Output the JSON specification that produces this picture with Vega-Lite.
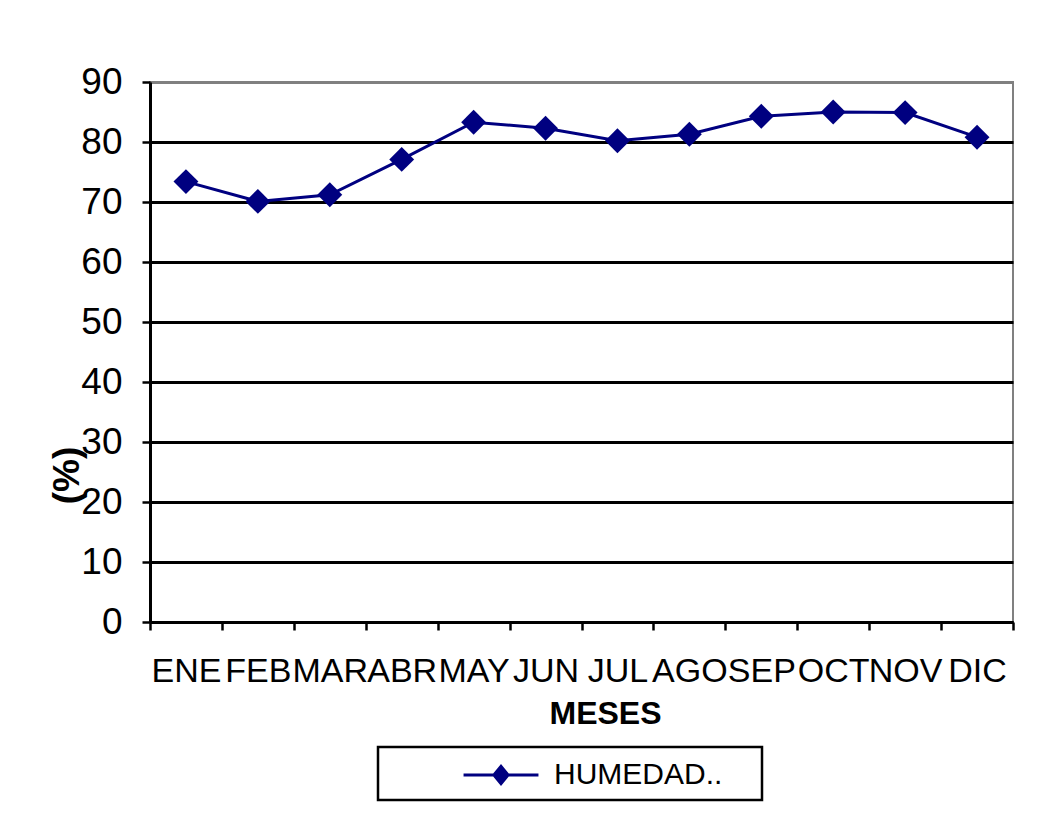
{
  "$schema": "https://vega.github.io/schema/vega-lite/v6.json",
  "width": 863,
  "height": 540,
  "autosize": {"type": "none"},
  "padding": {"left": 150, "top": 82, "right": 39, "bottom": 200},
  "background": "white",
  "config": {
    "font": "Liberation Sans",
    "view": {"stroke": "#808080", "strokeWidth": 2},
    "legend": {"strokeWidth": 2.5}
  },
  "data": {
    "values": [
      {"mes": "ENE", "humedad": 73.4, "serie": "HUMEDAD.."},
      {"mes": "FEB", "humedad": 70.1, "serie": "HUMEDAD.."},
      {"mes": "MAR", "humedad": 71.2, "serie": "HUMEDAD.."},
      {"mes": "ABR", "humedad": 77.1, "serie": "HUMEDAD.."},
      {"mes": "MAY", "humedad": 83.3, "serie": "HUMEDAD.."},
      {"mes": "JUN", "humedad": 82.3, "serie": "HUMEDAD.."},
      {"mes": "JUL", "humedad": 80.2, "serie": "HUMEDAD.."},
      {"mes": "AGO", "humedad": 81.3, "serie": "HUMEDAD.."},
      {"mes": "SEP", "humedad": 84.3, "serie": "HUMEDAD.."},
      {"mes": "OCT", "humedad": 85.0, "serie": "HUMEDAD.."},
      {"mes": "NOV", "humedad": 84.9, "serie": "HUMEDAD.."},
      {"mes": "DIC", "humedad": 80.8, "serie": "HUMEDAD.."}
    ]
  },
  "encoding": {
    "x": {
      "field": "mes",
      "type": "nominal",
      "sort": null,
      "scale": {"paddingInner": 0, "paddingOuter": 0},
      "axis": {
        "title": "MESES",
        "titleFontSize": 32,
        "titleFontWeight": "bold",
        "titleColor": "black",
        "titleX": 455,
        "titleY": 91,
        "titleAlign": "center",
        "titleBaseline": "middle",
        "labelAngle": 0,
        "labelFontSize": 34,
        "labelColor": "black",
        "labelPadding": 24,
        "labelOverlap": false,
        "labelLimit": 200,
        "labelBaseline": "top",
        "tickBand": "extent",
        "tickSize": 8,
        "tickWidth": 2.5,
        "tickColor": "black",
        "domainColor": "black",
        "domainWidth": 3,
        "grid": false
      }
    },
    "y": {
      "field": "humedad",
      "type": "quantitative",
      "scale": {"domain": [0, 90], "nice": false},
      "axis": {
        "title": "(%)",
        "titleFontSize": 37,
        "titleFontWeight": "bold",
        "titleColor": "black",
        "titleX": -83,
        "titleY": 393,
        "titleAlign": "center",
        "titleBaseline": "middle",
        "values": [0, 10, 20, 30, 40, 50, 60, 70, 80, 90],
        "labelFontSize": 37,
        "labelColor": "black",
        "labelPadding": 20,
        "tickSize": 8,
        "tickWidth": 2.5,
        "tickColor": "black",
        "domainColor": "black",
        "domainWidth": 3,
        "grid": true,
        "gridColor": {"condition": {"test": "datum.value === 90", "value": "#808080"}, "value": "black"},
        "gridWidth": 3
      }
    }
  },
  "layer": [
    {
      "mark": {"type": "line", "color": "#000080", "strokeWidth": 3}
    },
    {
      "mark": {"type": "point", "shape": "diamond", "filled": true, "size": 620, "opacity": 1},
      "encoding": {
        "color": {
          "field": "serie",
          "type": "nominal",
          "scale": {"range": ["#000080"]},
          "legend": {
            "title": " ",
            "titleOrient": "right",
            "titleFontSize": 29,
            "titlePadding": 30,
            "orient": "none",
            "legendX": 228,
            "legendY": 665,
            "padding": 10,
            "strokeColor": "black",
            "fillColor": "white",
            "cornerRadius": 0,
            "symbolType": "M-2.27,0H2.27M-0.43,0L0,-0.52L0.43,0L0,0.52Z",
            "symbolSize": 1089,
            "symbolFillColor": "#000080",
            "symbolStrokeColor": "#000080",
            "symbolStrokeWidth": 3,
            "symbolOffset": 95,
            "labelOffset": 35,
            "labelFontSize": 30,
            "labelColor": "black",
            "labelLimit": 300
          }
        }
      }
    }
  ]
}
